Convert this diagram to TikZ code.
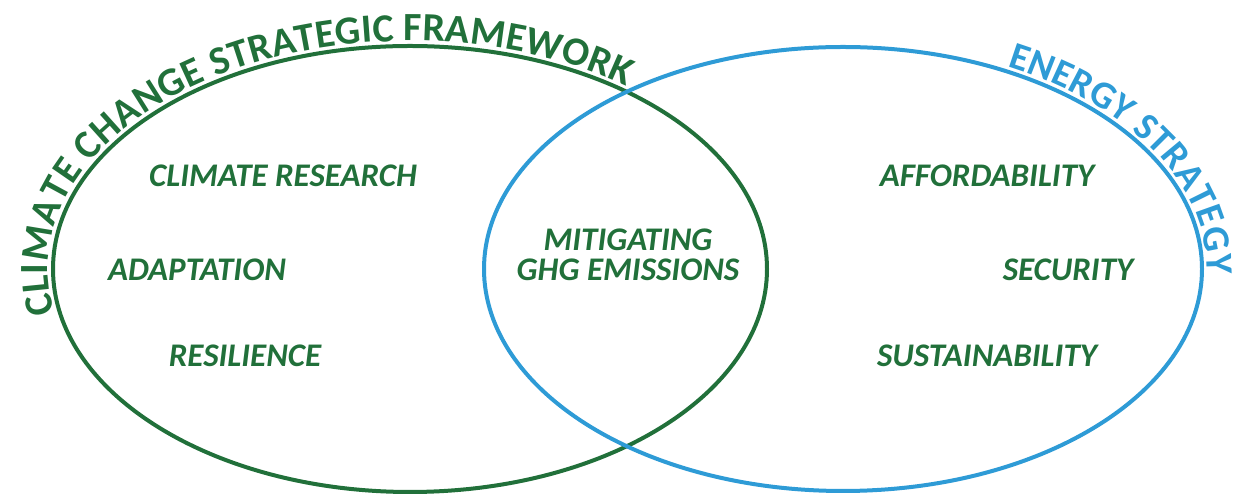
\documentclass[tikz,border=0pt]{standalone}
\usepackage{fontspec}
\setmainfont{Carlito}
\usetikzlibrary{shapes.geometric, decorations.text, positioning}
\definecolor{ccgreen}{HTML}{21703A}
\definecolor{esblue}{HTML}{2E9BD6}
\newcommand{\arcfont}{\fontsize{40}{42}\selectfont\bfseries}
\newcommand{\arcfontb}{\fontsize{38.5}{40}\selectfont\bfseries}

\begin{document}
\begin{tikzpicture}[x=1pt, y=1pt,
    venn/.style={ellipse, draw, line width=4pt, inner sep=0pt, outer sep=0pt},
    item/.style={text=ccgreen, align=center,
        font=\fontsize{33}{30}\selectfont\bfseries\itshape}]
\useasboundingbox (0,0) rectangle (1245,494);
\node[venn, draw=ccgreen, minimum width=714pt, minimum height=446pt] (ccsf) at (410,225) {};
\node[venn, draw=esblue, minimum width=718pt, minimum height=444pt] (es) at (843,225) {};
% titles along the two rims
\path[decorate, decoration={text along path, raise=5pt,
    text={|\color{ccgreen}\arcfont|CLIMATE CHANGE STRATEGIC FRAMEWORK}}]
    (59.6,182.5) arc[start angle=191, end angle=30, x radius=357pt, y radius=223pt];
\path[decorate, decoration={text along path, raise=5pt,
    text={|\color{esblue}\arcfontb|ENERGY STRATEGY}}]
    (1006,422.8) arc[start angle=63, end angle=-20, x radius=359pt, y radius=222pt];
% labels
\node[item] (cr) at (283,318) {CLIMATE RESEARCH};
\node[item] (ad) at (197,224) {ADAPTATION};
\node[item] (re) at (245,138) {RESILIENCE};
\node[item] (mg) at (628,239) {MITIGATING\\GHG EMISSIONS};
\node[item] (af) at (987,318) {AFFORDABILITY};
\node[item] (se) at (1068,224) {SECURITY};
\node[item] (su) at (987,138) {SUSTAINABILITY};
\end{tikzpicture}
\end{document}
